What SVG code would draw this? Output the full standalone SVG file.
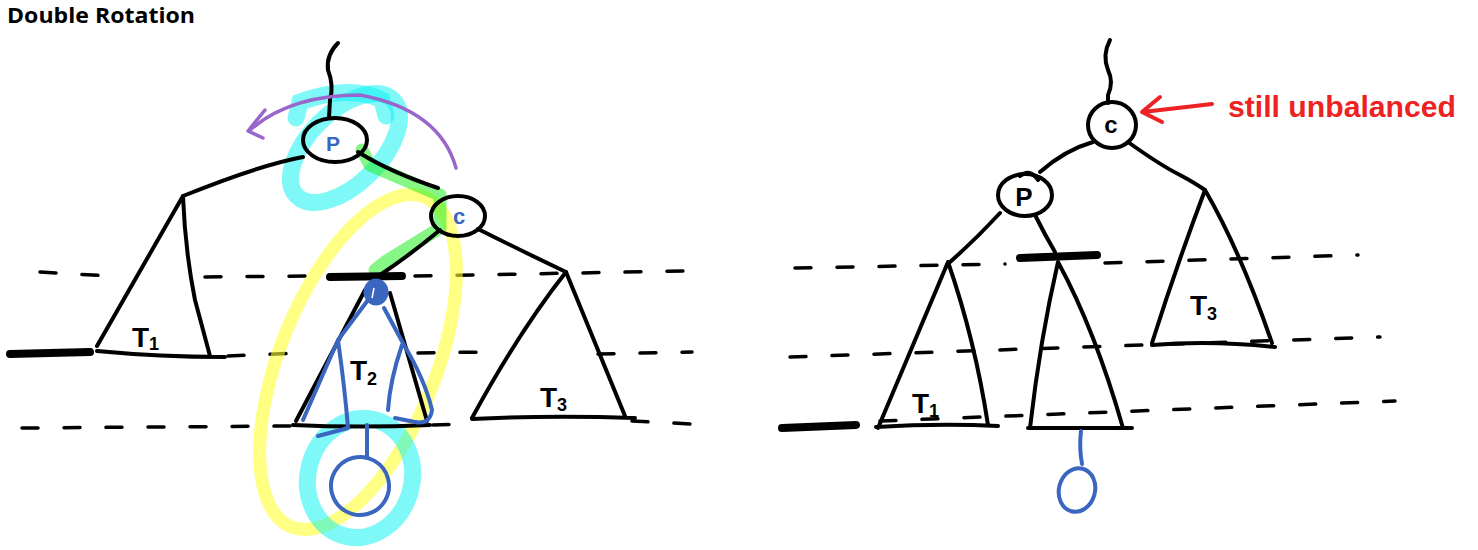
<svg xmlns="http://www.w3.org/2000/svg" width="1478" height="550" viewBox="0 0 1478 550">
<style>
.ink{fill:none;stroke:#000;stroke-width:4;stroke-linecap:round;stroke-linejoin:round}
.thick{fill:none;stroke:#000;stroke-width:8;stroke-linecap:round}
.dash{fill:none;stroke:#000;stroke-width:3.5;stroke-linecap:round;stroke-dasharray:16 26}
.blue{fill:none;stroke:#3a66c0;stroke-width:4;stroke-linecap:round;stroke-linejoin:round}
.hl-cyan{fill:none;stroke:#00f2f2;stroke-opacity:0.5;stroke-width:17;stroke-linecap:round}
.hl-yellow{fill:none;stroke:#ffff30;stroke-opacity:0.6;stroke-width:13;stroke-linecap:round}
.hl-green{fill:none;stroke:#22ee22;stroke-opacity:0.55;stroke-width:13;stroke-linecap:round;stroke-linejoin:round}
.lbl{font-family:"Liberation Sans",Arial,sans-serif;font-weight:bold;fill:#000}
.title{font-family:"Open Sans","Liberation Sans",sans-serif;font-weight:bold;font-size:21px;fill:#000}
</style>
<rect width="1478" height="550" fill="#fff"/>
<text class="title" x="7" y="23" textLength="188" lengthAdjust="spacingAndGlyphs">Double Rotation</text>

<g id="levels-left">
<path class="dash" d="M40 272 L110 276 M205 277 L305 276 M415 276 L685 271"/>
<path class="dash" d="M228 356 L300 353 M418 353 L485 352 M598 354 L692 352"/>
<path class="dash" d="M22 428 L290 426 M433 425 L468 424 M632 421 L692 424"/>
<path class="thick" d="M10 354 L90 352"/>
</g>
<g id="levels-right">
<path class="dash" d="M795 268 L1005 264 M1105 263 L1358 255"/>
<path class="dash" d="M790 357 L1380 337"/>
<path class="dash" d="M880 421 L1395 401"/>
<path class="thick" d="M782 428 L856 425"/>
</g>

<g id="highlights">
<ellipse class="hl-yellow" cx="358" cy="362" rx="78" ry="178" transform="rotate(22 358 362)"/>
<ellipse class="hl-cyan" cx="345" cy="148" rx="68" ry="36" transform="rotate(-45 345 148)"/>
<path class="hl-cyan" d="M296 118 L300 102 Q350 84 382 100 L386 116"/>
<ellipse class="hl-cyan" cx="360" cy="478" rx="52" ry="60" transform="rotate(15 360 478)"/>
<path class="hl-green" d="M362 150 L370 165 L440 195 L440 228 L385 262 L375 270"/>
</g>

<g id="connectors">
<path class="ink" d="M338 43 Q326 55 328 70 Q334 85 330 100 L329 118"/>
<path class="ink" d="M303 157 Q260 165 183 196"/>
<path class="ink" d="M358 152 Q390 172 438 188" stroke="#004d00"/>
<path class="ink" d="M440 230 Q410 255 380 275" stroke="#1a3300"/>
<path class="ink" d="M478 229 Q520 250 566 272"/>
<path class="ink" d="M1110 40 Q1102 55 1108 70 Q1114 82 1108 95 L1108 103"/>
<path class="ink" d="M1093 142 Q1065 150 1040 172"/>
<path class="ink" d="M1128 142 Q1160 165 1180 175 Q1195 183 1205 190"/>
<path class="ink" d="M1000 213 Q975 240 950 262"/>
<path class="ink" d="M1035 215 Q1045 235 1055 252"/>
</g>

<g id="rotation-arrow">
<path fill="none" stroke="#9966cc" stroke-width="3.5" stroke-linecap="round" d="M456 168 Q440 110 360 95 Q290 95 250 130"/>
<path fill="none" stroke="#9966cc" stroke-width="3.5" stroke-linecap="round" stroke-linejoin="round" d="M265 110 L248 131 L263 138"/>
</g>

<g id="node-p-left">
<ellipse class="ink" cx="335" cy="140" rx="32" ry="22" stroke="#003333"/>
<text class="lbl" x="333" y="151" font-size="21" text-anchor="middle" style="fill:#3a66c0">P</text>
</g>
<g id="node-c-left">
<ellipse class="ink" cx="458" cy="216" rx="27" ry="20"/>
<text class="lbl" x="459" y="224" font-size="22" text-anchor="middle" style="fill:#3a66c0">c</text>
</g>

<g id="tree-t1-left">
<path class="ink" d="M183 196 L97 346 M183 196 Q185 250 195 300 L210 356 M97 351 Q160 357 225 357"/>
<text class="lbl" x="132" y="347" font-size="28">T<tspan font-size="18" dy="3">1</tspan></text>
</g>

<g id="tree-t2-left">
<path class="thick" d="M330 277 L402 276"/>
<path class="ink" d="M365 290 L296 421 M390 293 L427 421 M293 425 Q360 428 430 425"/>
<ellipse cx="376" cy="292" rx="11" ry="12" fill="#3a66c0" stroke="#3a66c0" stroke-width="3"/>
<path d="M374 288 L372 298" stroke="#fff" stroke-width="1.5" fill="none"/>
<path class="blue" d="M368 300 L338 340 L303 420 M338 340 Q345 390 348 428 L318 436 M384 308 L404 345 M402 345 Q390 380 388 410 M404 345 Q425 380 432 410 Q430 425 415 422 L395 418"/>
<path class="blue" d="M367 425 L367 458"/>
<ellipse class="blue" cx="360" cy="486" rx="29" ry="29" transform="rotate(-15 360 486)"/>
<text class="lbl" x="350" y="380" font-size="28">T<tspan font-size="18" dy="5">2</tspan></text>
</g>

<g id="tree-t3-left">
<path class="ink" d="M566 272 Q520 330 472 418 M566 272 L625 416 M472 419 Q550 415 635 418"/>
<text class="lbl" x="540" y="407" font-size="28">T<tspan font-size="18" dy="4">3</tspan></text>
</g>

<g id="node-c-right">
<ellipse class="ink" cx="1112" cy="125" rx="24" ry="23"/>
<text class="lbl" x="1111" y="133" font-size="24" text-anchor="middle">c</text>
</g>
<g id="node-p-right">
<ellipse class="ink" cx="1025" cy="195" rx="27" ry="21"/>
<path class="ink" d="M1020 176 Q1030 168 1038 180"/>
<text class="lbl" x="1024" y="206" font-size="26" text-anchor="middle">P</text>
</g>

<g id="tree-t1-right">
<path class="ink" d="M948 262 Q915 340 878 428 M948 262 Q975 340 988 425 M876 427 Q940 423 998 426"/>
<text class="lbl" x="912" y="413" font-size="28">T<tspan font-size="18" dy="4">1</tspan></text>
</g>
<g id="tree-t2-right">
<path class="thick" d="M1020 258 L1097 255"/>
<path class="ink" d="M1058 262 Q1040 340 1030 428 M1058 262 Q1095 330 1123 428 M1028 428 L1132 428"/>
<path class="blue" d="M1081 431 Q1079 448 1082 464"/>
<ellipse class="blue" cx="1077" cy="490" rx="18" ry="22" transform="rotate(15 1077 490)"/>
</g>
<g id="tree-t3-right">
<path class="ink" d="M1205 190 Q1175 270 1152 343 M1205 190 Q1240 250 1272 343 M1152 345 Q1210 340 1275 347"/>
<text class="lbl" x="1190" y="315" font-size="28">T<tspan font-size="18" dy="5">3</tspan></text>
</g>

<g id="annotation">
<path fill="none" stroke="#ee2222" stroke-width="4" stroke-linecap="round" stroke-linejoin="round" d="M1212 104 L1143 112 M1160 97 L1142 112 L1162 122"/>
<text x="1228" y="117" font-family="Liberation Sans, Arial, sans-serif" font-weight="bold" font-size="29" fill="#ee2222" textLength="228" lengthAdjust="spacingAndGlyphs">still unbalanced</text>
</g>
</svg>
